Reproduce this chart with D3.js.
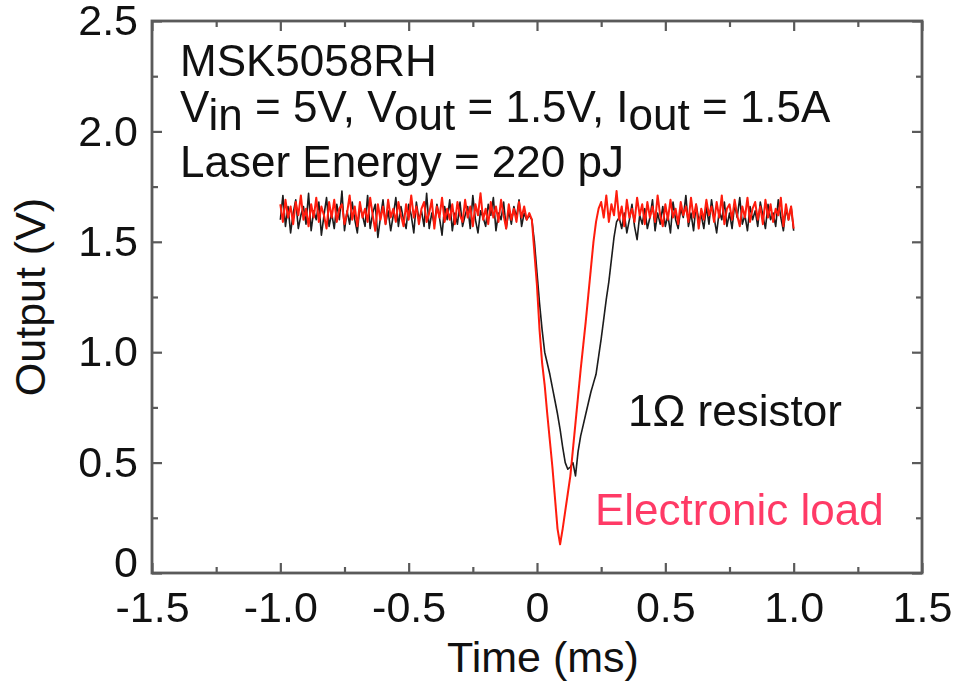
<!DOCTYPE html>
<html>
<head>
<meta charset="utf-8">
<script src="https://cdn.jsdelivr.net/npm/d3@7"></script>
<style>
  html, body { margin: 0; padding: 0; background: #fff; }
  svg { display: block; }
  text { font-family: "Liberation Sans", Arial, Helvetica, sans-serif; }
</style>
</head>
<body>
<svg id="chart" width="953" height="684"></svg>
<script>
// Axis ticks
const xTicks = [-1.5, -1.0, -0.5, 0, 0.5, 1.0, 1.5];
const yTicks = [0, 0.5, 1.0, 1.5, 2.0, 2.5];
const xMinorTicks = [-1.25, -0.75, -0.25, 0.25, 0.75, 1.25];
const yMinorTicks = [0.25, 0.75, 1.25, 1.75, 2.25];

// Oscilloscope sample times (ms)
const sampleTimes = [
  -1.00,-0.99,-0.98,-0.97,-0.96,-0.95,-0.94,-0.93,-0.92,-0.91,
  -0.90,-0.89,-0.88,-0.87,-0.86,-0.85,-0.84,-0.83,-0.82,-0.81,
  -0.80,-0.79,-0.78,-0.77,-0.76,-0.75,-0.74,-0.73,-0.72,-0.71,
  -0.70,-0.69,-0.68,-0.67,-0.66,-0.65,-0.64,-0.63,-0.62,-0.61,
  -0.60,-0.59,-0.58,-0.57,-0.56,-0.55,-0.54,-0.53,-0.52,-0.51,
  -0.50,-0.49,-0.48,-0.47,-0.46,-0.45,-0.44,-0.43,-0.42,-0.41,
  -0.40,-0.39,-0.38,-0.37,-0.36,-0.35,-0.34,-0.33,-0.32,-0.31,
  -0.30,-0.29,-0.28,-0.27,-0.26,-0.25,-0.24,-0.23,-0.22,-0.21,
  -0.20,-0.19,-0.18,-0.17,-0.16,-0.15,-0.14,-0.13,-0.12,-0.11,
  -0.10,-0.09,-0.08,-0.07,-0.06,-0.05,-0.04,-0.03,-0.02,-0.01,
   0.00, 0.01, 0.02, 0.03, 0.04, 0.05, 0.06, 0.07, 0.08, 0.09,
   0.10, 0.11, 0.12, 0.13, 0.14, 0.15, 0.16, 0.17, 0.18, 0.19,
   0.20, 0.21, 0.22, 0.23, 0.24, 0.25, 0.26, 0.27, 0.28, 0.29,
   0.30, 0.31, 0.32, 0.33, 0.34, 0.35, 0.36, 0.37, 0.38, 0.39,
   0.40, 0.41, 0.42, 0.43, 0.44, 0.45, 0.46, 0.47, 0.48, 0.49,
   0.50, 0.51, 0.52, 0.53, 0.54, 0.55, 0.56, 0.57, 0.58, 0.59,
   0.60, 0.61, 0.62, 0.63, 0.64, 0.65, 0.66, 0.67, 0.68, 0.69,
   0.70, 0.71, 0.72, 0.73, 0.74, 0.75, 0.76, 0.77, 0.78, 0.79,
   0.80, 0.81, 0.82, 0.83, 0.84, 0.85, 0.86, 0.87, 0.88, 0.89,
   0.90, 0.91, 0.92, 0.93, 0.94, 0.95, 0.96, 0.97, 0.98, 0.99,
   1.00
];

// Output voltage with the 1 ohm resistor load (V)
const resistorVolts = [
  // before the laser strike
  1.60,1.71,1.57,1.66,1.54,1.63,1.69,1.56,1.62,1.66,
  1.58,1.72,1.55,1.64,1.60,1.68,1.53,1.62,1.70,1.57,
  1.63,1.56,1.67,1.60,1.73,1.55,1.64,1.58,1.68,1.60,
  1.54,1.66,1.62,1.57,1.71,1.56,1.63,1.67,1.52,1.61,
  1.69,1.58,1.64,1.55,1.62,1.70,1.57,1.66,1.60,1.56,
  1.67,1.62,1.54,1.68,1.60,1.64,1.57,1.72,1.56,1.63,
  1.58,1.67,1.61,1.53,1.66,1.60,1.69,1.55,1.63,1.58,
  1.68,1.57,1.62,1.66,1.56,1.71,1.60,1.54,1.64,1.61,
  1.57,1.67,1.62,1.70,1.55,1.63,1.60,1.68,1.56,1.64,
  1.58,1.66,1.61,1.69,1.57,1.63,1.60,1.62,
  // transient
  1.60,1.50,1.36,1.22,1.10,1.00,0.95,0.90,0.84,0.78,
  0.72,0.65,0.57,0.50,0.47,0.48,0.50,0.44,0.55,0.62,
  0.67,0.72,0.77,0.82,0.86,0.90,0.98,1.06,1.15,1.24,
  1.32,1.42,1.52,1.59,
  // recovered
  1.61,1.56,1.63,1.54,1.60,1.67,1.57,1.51,1.62,1.58,
  1.65,1.56,1.61,1.69,1.55,1.63,1.58,1.66,1.57,1.62,
  1.54,1.68,1.60,1.56,1.65,1.61,1.71,1.57,1.63,1.55,
  1.67,1.60,1.62,1.56,1.66,1.58,1.69,1.61,1.54,1.64,
  1.60,1.68,1.57,1.63,1.56,1.67,1.61,1.70,1.58,1.62,
  1.55,1.66,1.60,1.64,1.57,1.68,1.62,1.56,1.67,1.60,
  1.63,1.57,1.69,1.61,1.55,1.65,1.60,1.66,1.55
];

// Output voltage with the electronic load (V)
const loadVolts = [
  // before the laser strike
  1.67,1.59,1.69,1.61,1.66,1.58,1.68,1.62,1.71,1.60,
  1.65,1.57,1.67,1.61,1.70,1.59,1.66,1.62,1.56,1.68,
  1.61,1.69,1.59,1.65,1.67,1.58,1.63,1.71,1.60,1.66,
  1.57,1.68,1.61,1.65,1.59,1.70,1.62,1.55,1.67,1.60,
  1.66,1.58,1.69,1.61,1.65,1.59,1.68,1.62,1.57,1.67,
  1.60,1.71,1.61,1.66,1.58,1.65,1.68,1.59,1.63,1.69,
  1.56,1.66,1.61,1.70,1.59,1.65,1.60,1.67,1.58,1.68,
  1.62,1.59,1.69,1.61,1.66,1.57,1.67,1.62,1.72,1.60,
  1.65,1.58,1.68,1.61,1.66,1.59,1.69,1.62,1.56,1.67,
  1.60,1.65,1.59,1.68,1.61,1.66,1.60,1.63,
  // transient
  1.60,1.45,1.30,1.10,0.95,0.85,0.72,0.60,0.48,0.34,
  0.20,0.13,0.20,0.28,0.36,0.44,0.56,0.68,0.80,0.92,
  1.03,1.14,1.26,1.38,1.50,1.59,1.65,
  // recovered
  1.68,1.61,1.71,1.59,1.67,1.62,1.73,1.60,1.66,1.57,
  1.69,1.61,1.65,1.59,1.70,1.62,1.67,1.58,1.68,1.61,
  1.66,1.59,1.71,1.62,1.57,1.67,1.60,1.69,1.61,1.65,
  1.58,1.68,1.62,1.66,1.59,1.70,1.61,1.67,1.56,1.65,
  1.60,1.69,1.62,1.66,1.59,1.68,1.61,1.71,1.58,1.65,
  1.67,1.60,1.69,1.62,1.57,1.66,1.61,1.70,1.59,1.65,
  1.68,1.60,1.66,1.58,1.69,1.61,1.67,1.59,1.65,1.62,
  1.70,1.57,1.67,1.60,1.66,1.56
];

const svg = d3.select("#chart");
const plot = { left: 152, right: 922, top: 21, bottom: 573 };

const x = d3.scaleLinear().domain([-1.5, 1.5]).range([plot.left, plot.right]);
const y = d3.scaleLinear().domain([0, 2.5]).range([plot.bottom, plot.top]);

const frameColor = "#5a5a5a";
const fmt = d => (d === 0 ? "0" : d.toFixed(1));

// Soft edge for the frame and traces
const defs = svg.append("defs");
defs.append("filter").attr("id", "soft")
  .attr("x", "-5%").attr("y", "-5%").attr("width", "110%").attr("height", "110%")
  .append("feGaussianBlur").attr("stdDeviation", 0.45);

// Traces
const line = d3.line()
  .x((d, i) => x(sampleTimes[i]))
  .y(d => y(d));

const traces = svg.append("g").attr("filter", "url(#soft)");

traces.append("path")
  .datum(resistorVolts)
  .attr("d", line)
  .attr("fill", "none")
  .attr("stroke", "#1a1a1a")
  .attr("stroke-width", 1.6)
  .attr("stroke-linejoin", "round");

traces.append("path")
  .datum(loadVolts)
  .attr("d", line)
  .attr("fill", "none")
  .attr("stroke", "#ff1a0a")
  .attr("stroke-width", 2.0)
  .attr("stroke-linejoin", "round");

// Inward-pointing ticks on all four sides
function styleAxis(g) {
  g.select(".domain").remove();
  g.selectAll(".tick line").attr("stroke", frameColor).attr("stroke-width", 2.2);
}

const majorLen = 10, minorLen = 6;
const frame = svg.append("g").attr("filter", "url(#soft)");

svg.append("g")
  .attr("transform", `translate(0,${plot.bottom})`)
  .call(d3.axisBottom(x).tickValues(xTicks).tickSize(-majorLen).tickPadding(18).tickFormat(fmt))
  .call(styleAxis)
  .call(g => g.selectAll("text")
    .attr("font-size", 43).attr("fill", "#111")
    .attr("font-family", '"Liberation Sans", Arial, sans-serif'));

frame.append("g")
  .attr("transform", `translate(0,${plot.bottom})`)
  .call(d3.axisBottom(x).tickValues(xMinorTicks).tickSize(-minorLen).tickFormat(""))
  .call(styleAxis);

frame.append("g")
  .attr("transform", `translate(0,${plot.top})`)
  .call(d3.axisTop(x).tickValues(xTicks).tickSize(-majorLen).tickFormat(""))
  .call(styleAxis);

frame.append("g")
  .attr("transform", `translate(0,${plot.top})`)
  .call(d3.axisTop(x).tickValues(xMinorTicks).tickSize(-minorLen).tickFormat(""))
  .call(styleAxis);

svg.append("g")
  .attr("transform", `translate(${plot.left},0)`)
  .call(d3.axisLeft(y).tickValues(yTicks).tickSize(-majorLen).tickPadding(14).tickFormat(fmt))
  .call(styleAxis)
  .call(g => g.selectAll("text")
    .attr("font-size", 43).attr("fill", "#111")
    .attr("font-family", '"Liberation Sans", Arial, sans-serif'))
  // the zero label sits a little above its tick, clear of the time axis labels
  .call(g => g.selectAll(".tick").filter(d => d === 0).select("text").attr("y", -10));

frame.append("g")
  .attr("transform", `translate(${plot.left},0)`)
  .call(d3.axisLeft(y).tickValues(yMinorTicks).tickSize(-minorLen).tickFormat(""))
  .call(styleAxis);

frame.append("g")
  .attr("transform", `translate(${plot.right},0)`)
  .call(d3.axisRight(y).tickValues(yTicks).tickSize(-majorLen).tickFormat(""))
  .call(styleAxis);

frame.append("g")
  .attr("transform", `translate(${plot.right},0)`)
  .call(d3.axisRight(y).tickValues(yMinorTicks).tickSize(-minorLen).tickFormat(""))
  .call(styleAxis);

frame.append("rect")
  .attr("x", plot.left).attr("y", plot.top)
  .attr("width", plot.right - plot.left).attr("height", plot.bottom - plot.top)
  .attr("fill", "none").attr("stroke", frameColor).attr("stroke-width", 2.8);

// Axis titles
svg.append("text")
  .attr("x", 543).attr("y", 672)
  .attr("text-anchor", "middle")
  .attr("font-size", 43).attr("fill", "#111")
  .text("Time (ms)");

svg.append("text")
  .attr("transform", "translate(45,297) rotate(-90)")
  .attr("text-anchor", "middle")
  .attr("font-size", 43).attr("fill", "#111")
  .text("Output (V)");

// Test conditions
const note = svg.append("g").attr("font-size", 44).attr("fill", "#111");
note.append("text").attr("x", 180).attr("y", 76).text("MSK5058RH");

const cond = note.append("text").attr("x", 180).attr("y", 122);
const sub = 8;
cond.append("tspan").text("V");
cond.append("tspan").attr("dy", sub).text("in");
cond.append("tspan").attr("dy", -sub).text(" = 5V, V");
cond.append("tspan").attr("dy", sub).text("out");
cond.append("tspan").attr("dy", -sub).text(" = 1.5V, I");
cond.append("tspan").attr("dy", sub).text("out");
cond.append("tspan").attr("dy", -sub).text(" = 1.5A");

note.append("text").attr("x", 180).attr("y", 177).text("Laser Energy = 220 pJ");

// Series labels
svg.append("text")
  .attr("x", 628).attr("y", 426)
  .attr("font-size", 44).attr("fill", "#111")
  .text("1\u03A9 resistor");

svg.append("text")
  .attr("x", 595).attr("y", 525)
  .attr("font-size", 44).attr("fill", "#ff3a66")
  .text("Electronic load");
</script>
</body>
</html>
